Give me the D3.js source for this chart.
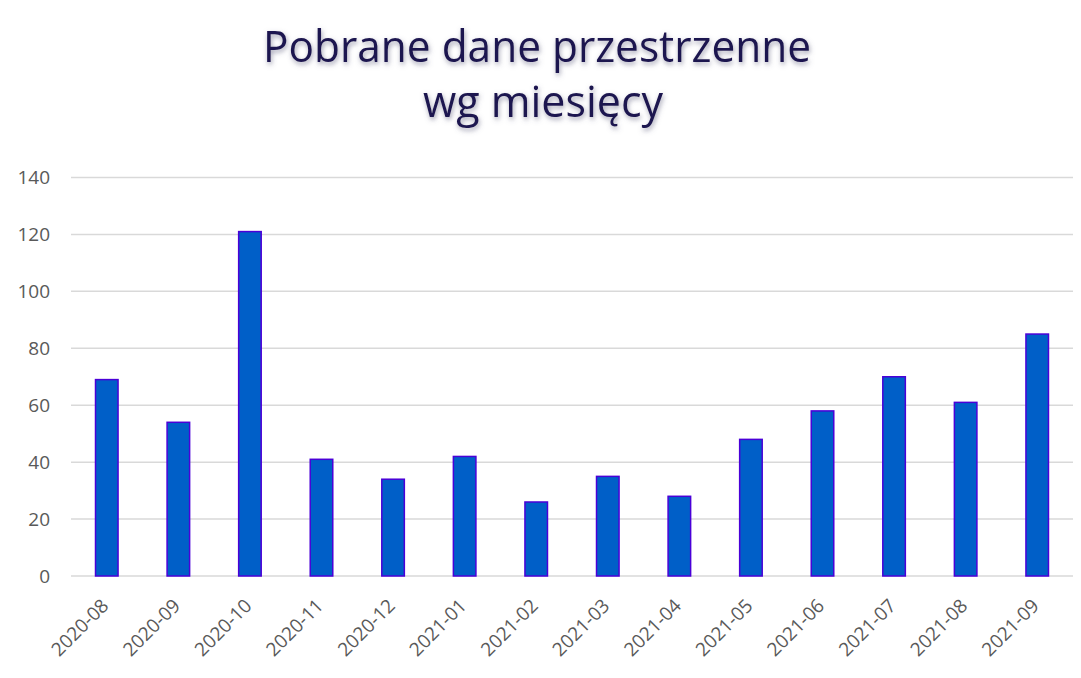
<!DOCTYPE html>
<html>
<head>
<meta charset="utf-8">
<script src="https://cdn.jsdelivr.net/npm/d3@7"></script>
<style>
  body { margin: 0; background: #fff; }
  svg { display: block; }
</style>
</head>
<body>
<script>
//chart data
var months = ["2020-08", "2020-09", "2020-10", "2020-11", "2020-12", "2021-01", "2021-02",
              "2021-03", "2021-04", "2021-05", "2021-06", "2021-07", "2021-08", "2021-09"];
var downloads = [69, 54, 121, 41, 34, 42, 26, 35, 28, 48, 58, 70, 61, 85];
var yTicks = [0, 20, 40, 60, 80, 100, 120, 140];
var titleLines = ["Pobrane dane przestrzenne", "wg miesięcy"];

var w = 1081, h = 678;
var svg = d3.select("body").append("svg")
    .attr("width", w)
    .attr("height", h);

//soft shadow behind the title
var defs = svg.append("defs");
defs.append("filter")
    .attr("id", "glow")
    .attr("x", "-10%").attr("y", "-30%")
    .attr("width", "120%").attr("height", "160%")
    .append("feDropShadow")
    .attr("dx", 1).attr("dy", 2.5)
    .attr("stdDeviation", 2.5)
    .attr("flood-color", "#5a5a7a")
    .attr("flood-opacity", 0.6);

//scales
var x = d3.scaleBand()
    .domain(months)
    .range([71, 1073])
    .paddingInner(0.685)
    .paddingOuter(0.3425);

var y = d3.scaleLinear()
    .domain([0, 140])
    .range([576, 177.5]);

//horizontal gridlines
svg.append("g")
    .selectAll("line")
    .data(yTicks)
    .enter()
    .append("line")
    .attr("x1", 71)
    .attr("x2", 1073)
    .attr("y1", function(d){ return y(d); })
    .attr("y2", function(d){ return y(d); })
    .style("stroke", "#d9d9d9")
    .style("stroke-width", 1.5);

//y axis labels
var yAxis = d3.axisLeft(y)
    .tickValues(yTicks)
    .tickSize(0)
    .tickPadding(21);

var yg = svg.append("g")
    .attr("transform", "translate(71,0)")
    .call(yAxis);
yg.select(".domain").remove();
yg.selectAll("text")
    .style("font-family", "'Open Sans', sans-serif")
    .style("font-size", "19px")
    .style("fill", "#595959");

//bars
svg.append("g")
    .selectAll("rect")
    .data(downloads)
    .enter()
    .append("rect")
    .attr("x", function(d, i){ return x(months[i]); })
    .attr("width", x.bandwidth())
    .attr("y", function(d){ return y(d); })
    .attr("height", function(d){ return y(0) - y(d); })
    .style("fill", "#005fc8")
    .style("stroke", "#4a00d8")
    .style("stroke-width", 1.5);

//x axis labels, rotated
var xAxis = d3.axisBottom(x)
    .tickSize(0)
    .tickPadding(0);

var xg = svg.append("g")
    .attr("transform", "translate(0,576)")
    .call(xAxis);
xg.select(".domain").remove();
xg.selectAll("text")
    .attr("text-anchor", "end")
    .attr("dy", null)
    .attr("y", 0)
    .attr("transform", "translate(3,31) rotate(-45)")
    .style("font-family", "'Open Sans', sans-serif")
    .style("font-size", "19px")
    .style("fill", "#595959");

//title, two lines squeezed to the width of the original
var titleX = [263, 423], titleW = [548, 240];
svg.append("g")
    .attr("filter", "url(#glow)")
    .selectAll("text")
    .data(titleLines)
    .enter()
    .append("text")
    .attr("x", function(d, i){ return titleX[i]; })
    .attr("y", function(d, i){ return 62 + i * 55; })
    .attr("textLength", function(d, i){ return titleW[i]; })
    .attr("lengthAdjust", "spacingAndGlyphs")
    .style("font-family", "'Open Sans', sans-serif")
    .style("font-size", "44px")
    .style("font-weight", 500)
    .style("fill", "#1c1250")
    .text(function(d){ return d; });
</script>
</body>
</html>
